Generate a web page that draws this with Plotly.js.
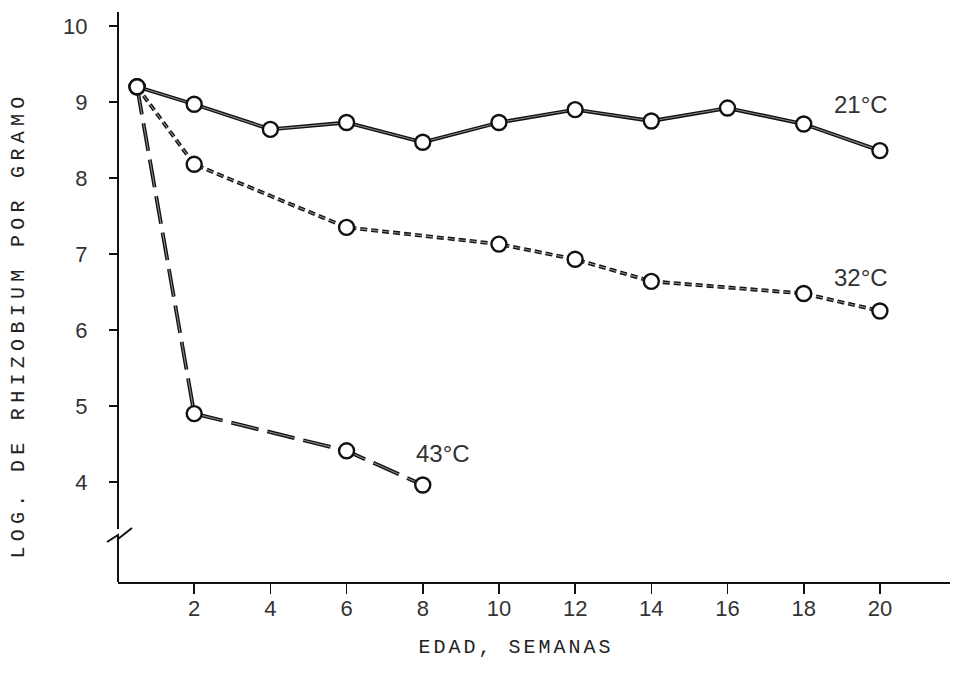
<!DOCTYPE html>
<html>
<head>
<meta charset="utf-8">
<script src="https://cdn.plot.ly/plotly-3.0.1.min.js"></script>
<style>
html,body{margin:0;padding:0;background:#fff;}
#chart{width:953px;height:688px;}
</style>
</head>
<body>
<div id="chart"></div>
<script>
// ---- data (weeks, log Rhizobium per gram) ----
const weeks21 = [0.5, 2, 4, 6, 8, 10, 12, 14, 16, 18, 20];
const log21   = [9.2, 8.97, 8.64, 8.73, 8.47, 8.73, 8.9, 8.75, 8.92, 8.71, 8.36];
const weeks32 = [0.5, 2, 6, 10, 12, 14, 18, 20];
const log32   = [9.2, 8.18, 7.35, 7.13, 6.93, 6.64, 6.48, 6.25];
const weeks43 = [0.5, 2, 6, 8];
const log43   = [9.2, 4.9, 4.41, 3.96];
const seriesNames = ['21°C', '32°C', '43°C'];
const xTicks = [2, 4, 6, 8, 10, 12, 14, 16, 18, 20];
const yTicks = [4, 5, 6, 7, 8, 9, 10];
const xTitle = 'EDAD, SEMANAS';
const yTitle = 'LOG. DE RHIZOBIUM POR GRAMO';

const series = [
  {x: weeks21, y: log21, dash: 'solid'},
  {x: weeks32, y: log32, dash: '7px,4px'},
  {x: weeks43, y: log43, dash: '28px,9px'}
];

const traces = [];
series.forEach(s => traces.push({x: s.x, y: s.y, mode: 'lines', type: 'scatter', showlegend: false, hoverinfo: 'skip',
  line: {color: '#111', width: 3.8, dash: s.dash}}));
series.forEach(s => traces.push({x: s.x, y: s.y, mode: 'lines', type: 'scatter', showlegend: false, hoverinfo: 'skip',
  line: {color: '#8a8a8a', width: 1.1, dash: s.dash}}));
series.forEach((s, i) => traces.push({x: s.x, y: s.y, mode: 'markers', type: 'scatter', showlegend: false, name: seriesNames[i],
  marker: {symbol: 'circle', size: 15, color: '#fff', line: {color: '#111', width: 2.4}}}));

const tickFont = {family: 'Liberation Sans, Arial, sans-serif', size: 22, color: '#333'};
const titleFont = {family: 'Liberation Mono, Courier New, monospace', size: 20, color: '#222'};
const labelFont = {family: 'Liberation Sans, Arial, sans-serif', size: 24, color: '#333'};

const W = 832, H = 570;
const px = v => v / W, py = v => v / H;

const layout = {
  width: 953, height: 688,
  margin: {l: 118, r: 3, t: 12, b: 106},
  paper_bgcolor: '#fff', plot_bgcolor: '#fff',
  showlegend: false,
  xaxis: {range: [0, 21.84], tickvals: xTicks, ticktext: xTicks.map(String), ticks: 'outside', ticklen: 10, tickwidth: 1.6, tickcolor: '#111',
    showline: true, linecolor: '#111', linewidth: 2, showgrid: false, zeroline: false, tickfont: tickFont, ticklabelstandoff: -4, fixedrange: true},
  yaxis: {range: [2.684, 10.184], tickvals: yTicks, ticktext: yTicks.map(String), ticks: 'outside', ticklen: 8, tickwidth: 1.6, tickcolor: '#111',
    showline: false, showgrid: false, zeroline: false, tickfont: tickFont, ticklabelstandoff: 17, fixedrange: true},
  shapes: [
    {type: 'line', xref: 'paper', yref: 'paper', x0: 0, x1: 0, y0: py(582 - 529), y1: 1, line: {color: '#111', width: 2}},
    {type: 'line', xref: 'paper', yref: 'paper', x0: 0, x1: 0, y0: 0, y1: py(582 - 536), line: {color: '#111', width: 2}},
    {type: 'path', xref: 'paper', yref: 'paper',
      path: `M ${px(-11)} ${py(582-542)} L ${px(0)} ${py(582-535)} L ${px(0)} ${py(582-539)} L ${px(14)} ${py(582-528)}`,
      line: {color: '#111', width: 2}}
  ],
  annotations: [
    {text: seriesNames[0], x: 19.5, y: 8.97, xref: 'x', yref: 'y', xanchor: 'center', yanchor: 'middle', showarrow: false, font: labelFont},
    {text: seriesNames[1], x: 19.5, y: 6.69, xref: 'x', yref: 'y', xanchor: 'center', yanchor: 'middle', showarrow: false, font: labelFont},
    {text: seriesNames[2], x: 8.53, y: 4.375, xref: 'x', yref: 'y', xanchor: 'center', yanchor: 'middle', showarrow: false, font: labelFont},
    {text: xTitle, x: px(516 - 118), y: py(582 - 647), xref: 'paper', yref: 'paper', xanchor: 'center', yanchor: 'middle', showarrow: false, font: titleFont},
    {text: yTitle, x: px(19 - 118), y: py(582 - 325), xref: 'paper', yref: 'paper', xanchor: 'center', yanchor: 'middle', showarrow: false, textangle: -90, font: titleFont}
  ]
};

Plotly.newPlot('chart', traces, layout, {displayModeBar: false, staticPlot: true}).then(() => {
  document.querySelectorAll('text.annotation-text').forEach(t => {
    if (t.textContent === xTitle) t.style.letterSpacing = '3px';
    if (t.textContent === yTitle) t.style.letterSpacing = '5.3px';
  });
});
</script>
</body>
</html>
